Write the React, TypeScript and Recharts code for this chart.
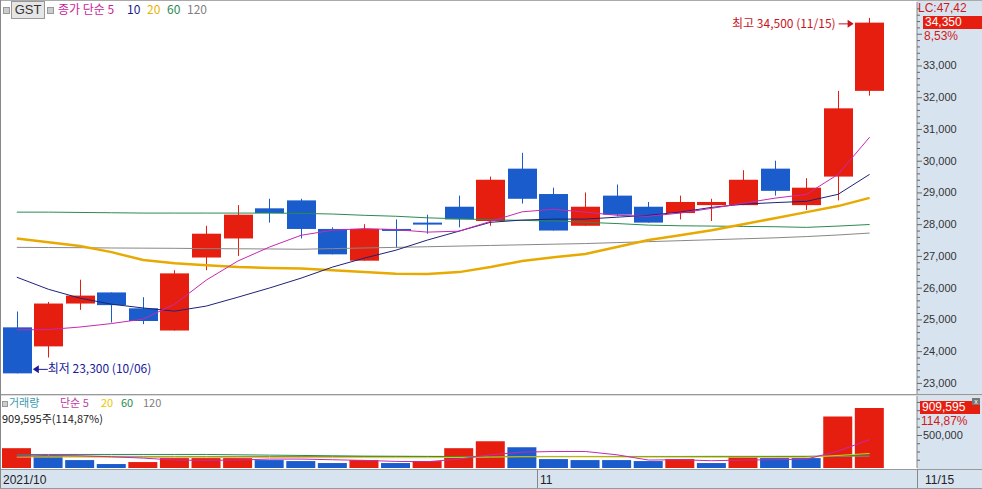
import React from "react";
import { ComposedChart, Bar, Line, XAxis, YAxis, Cell, ReferenceDot } from "recharts";

// daily candles, 2021/10/06 .. 2021/11/15
const dates = [
  "10/06", "10/07", "10/08", "10/12", "10/13", "10/14", "10/15", "10/18", "10/19", "10/20",
  "10/21", "10/22", "10/25", "10/26", "10/27", "10/28", "10/29", "11/01", "11/02", "11/03",
  "11/04", "11/05", "11/08", "11/09", "11/10", "11/11", "11/12", "11/15",
];
const opens = [
  24750, 24150, 25500, 25850, 25350, 24650, 26950, 27550, 28500, 28750,
  27850, 26850, 27850, 28050, 28550, 28100, 29750, 28950, 27950, 28900,
  28550, 28350, 28600, 28600, 29750, 28600, 29500, 32200,
];
const highs = [
  25250, 25550, 26250, 25850, 25700, 26550, 27950, 28600, 28800, 28800,
  27900, 28000, 28150, 28300, 28900, 29500, 30250, 29150, 29000, 29250,
  28700, 28900, 28800, 29700, 30000, 29450, 32200, 34500,
];
const lows = [
  23300, 23800, 25300, 24900, 24850, 24650, 26550, 27000, 28050, 27550,
  27050, 26850, 27250, 27700, 27900, 27950, 28650, 27800, 27950, 28250,
  28050, 28150, 28100, 28600, 28900, 28450, 28750, 32050,
];
const closes = [
  23300, 25500, 25750, 25450, 24950, 26450, 27700, 28300, 28350, 27850,
  27050, 27850, 27800, 28000, 28150, 29400, 28800, 27800, 28550, 28300,
  28050, 28700, 28700, 29400, 29050, 29150, 31650, 34350,
];
const ma5 = [
  24670, 24680, 24760, 24870, 25010, 25480, 26240, 26840, 27280, 27650,
  27810, 27860, 27830, 27750, 27780, 28090, 28390, 28470, 28380, 28280,
  28250, 28350, 28500, 28660, 28820, 28940, 29570, 30740,
];
const ma10 = [
  26330, 25950, 25670, 25480, 25360, 25260, 25420, 25700, 25990, 26300,
  26650, 26930, 27180, 27500, 27780, 28060, 28130, 28160, 28160, 28220,
  28280, 28380, 28530, 28630, 28680, 28720, 28940, 29570,
];
const ma20 = [
  27550, 27430, 27310, 27120, 26870, 26770, 26710, 26650, 26620, 26600,
  26550, 26490, 26440, 26430, 26490, 26650, 26840, 26960, 27060, 27280,
  27500, 27650, 27810, 28000, 28190, 28380, 28570, 28830,
];
const ma60 = [
  28380, 28380, 28370, 28360, 28350, 28350, 28350, 28350, 28350, 28340,
  28320, 28280, 28250, 28200, 28170, 28140, 28120, 28100, 28060, 28020,
  27970, 27950, 27940, 27930, 27920, 27900, 27940, 27990,
];
const ma120 = [
  27270, 27265, 27260, 27250, 27245, 27240, 27230, 27225, 27220, 27210,
  27230, 27250, 27270, 27290, 27310, 27330, 27350, 27370, 27390, 27420,
  27450, 27480, 27510, 27540, 27570, 27610, 27660, 27720,
];

const volumes = [
  300000, 180000, 120000, 60000, 90000, 150000, 150000, 150000, 120000, 105000,
  75000, 120000, 75000, 105000, 300000, 405000, 315000, 135000, 120000, 120000,
  105000, 135000, 75000, 165000, 150000, 150000, 780000, 909595,
];
const volRed = [
  true, false, false, false, true, true, true, true, false, false,
  false, true, false, true, true, true, false, false, false, false,
  false, true, false, true, false, false, true, true,
];
const volMa5 = [
  180000, 190000, 185000, 170000, 150000, 120000, 115000, 120000, 135000, 135000,
  125000, 115000, 100000, 95000, 135000, 200000, 240000, 250000, 250000, 200000,
  120000, 125000, 110000, 120000, 125000, 135000, 255000, 430000,
];
const volMa20 = [
  165000, 165000, 165000, 162000, 160000, 160000, 160000, 158000, 158000, 158000,
  157000, 157000, 156000, 156000, 160000, 165000, 170000, 170000, 170000, 168000,
  166000, 165000, 163000, 163000, 162000, 162000, 190000, 220000,
];
const volMa60 = [
  205000, 205000, 205000, 205000, 205000, 205000, 205000, 200000, 195000, 190000,
  185000, 180000, 178000, 176000, 175000, 175000, 175000, 175000, 175000, 175000,
  175000, 175000, 176000, 176000, 176000, 177000, 185000, 195000,
];
const volMa120 = [
  178000, 178000, 177000, 177000, 176000, 176000, 175000, 175000, 174000, 174000,
  173000, 173000, 172000, 172000, 172000, 173000, 173000, 173000, 173000, 173000,
  173000, 173000, 173000, 173000, 173000, 173000, 176000, 180000,
];

const priceTicks: number[] = [];
for (let v = 22800; v <= 34800; v += 200) priceTicks.push(v);
const volTicks = [125000, 250000, 375000, 500000, 625000, 750000, 875000, 1000000];

const RED = "#e61e10";
const BLUE = "#1a5ccc";
const AXIS_BG = "#d8e3f0";
const FONT = "'Liberation Sans', Arial, sans-serif";
const KFONT = "'Noto Sans CJK KR', 'Liberation Sans', sans-serif";

// one empty slot on the right, like the HTS chart
const rows = dates
  .map((d, i) => ({
    d,
    open: opens[i],
    high: highs[i],
    low: lows[i],
    close: closes[i],
    ma5: ma5[i],
    ma10: ma10[i],
    ma20: ma20[i],
    ma60: ma60[i],
    ma120: ma120[i],
    vol: volumes[i],
    volRed: volRed[i],
    vma5: volMa5[i],
    vma20: volMa20[i],
    vma60: volMa60[i],
    vma120: volMa120[i],
  }))
  .concat([{ d: "" } as any]);

const fmt = (v: number) => String(v).replace(/\B(?=(\d{3})+(?!\d))/g, ",");

const Candle = (props: any) => {
  const { x, y, width, height, payload } = props;
  if (payload == null || payload.open == null) return null;
  const { open, close, high, low } = payload;
  const top = Math.min(y, y + height);
  const h = Math.abs(height);
  const k = h / (high - low);
  const cx = Math.round(x + width / 2);
  const yO = top + (high - open) * k;
  const yC = top + (high - close) * k;
  const color = close >= open ? RED : BLUE;
  const bTop = Math.min(yO, yC);
  const bH = Math.max(Math.abs(yC - yO), 2);
  return (
    <g>
      <line x1={cx + 0.5} x2={cx + 0.5} y1={top} y2={top + h} stroke={color} strokeWidth={1} />
      <rect x={cx - 14} y={bTop} width={29} height={bH} fill={color} />
    </g>
  );
};

const PriceTick = (props: any) => {
  const { x, y, payload } = props;
  const v = payload.value;
  const major = v % 1000 === 0;
  return (
    <g>
      <line x1={x} x2={x + (major ? 5 : 3)} y1={y + 0.5} y2={y + 0.5} stroke="#666" />
      {major && v <= 33000 && (
        <text x={x + 6} y={y + 4} fontSize={11} fill="#333" fontFamily={FONT}>
          {fmt(v)}
        </text>
      )}
    </g>
  );
};

const VolTick = (props: any) => {
  const { x, y, payload } = props;
  const v = payload.value;
  const major = v === 500000;
  return (
    <g>
      <line x1={x} x2={x + (major ? 5 : 3)} y1={y + 0.5} y2={y + 0.5} stroke="#666" />
      {major && (
        <text x={x + 6} y={y + 4} fontSize={11} fill="#333" fontFamily={FONT}>
          {fmt(v)}
        </text>
      )}
    </g>
  );
};

const HighMark = (props: any) => {
  const { cx, cy } = props;
  return (
    <g>
      <text x={cx - 34} y={cy + 10} fontSize={12} fill="#c8141e" textAnchor="end" fontFamily={KFONT}>
        최고 34,500 (11/15)
      </text>
      <line x1={cx - 31} x2={cx - 17} y1={cy + 6} y2={cy + 6} stroke="#c8141e" />
      <path d={`M${cx - 16},${cy + 6} L${cx - 22},${cy + 2} L${cx - 22},${cy + 10} Z`} fill="#c8141e" />
    </g>
  );
};

const LowMark = (props: any) => {
  const { cx, cy } = props;
  return (
    <g>
      <path d={`M${cx + 16},${cy - 4} L${cx + 22},${cy - 8} L${cx + 22},${cy} Z`} fill="#1a1a9a" />
      <line x1={cx + 21} x2={cx + 31} y1={cy - 4} y2={cy - 4} stroke="#1a1a9a" />
      <text x={cx + 31} y={cy} fontSize={12} fill="#1a1a9a" fontFamily={KFONT}>
        최저 23,300 (10/06)
      </text>
    </g>
  );
};

const abs = (left: number, top: number, extra: React.CSSProperties = {}): React.CSSProperties => ({
  position: "absolute",
  left,
  top,
  whiteSpace: "nowrap",
  lineHeight: 1,
  ...extra,
});

export default function App() {
  return (
    <div style={{ position: "relative", width: 982, height: 489, background: "#fff", overflow: "hidden", fontFamily: KFONT }}>
      <style>{"body{margin:0}"}</style>

      {/* right axis background */}
      <div style={abs(917, 0, { width: 65, height: 489, background: AXIS_BG })} />

      {/* price panel */}
      <div style={abs(0, 0)}>
        <ComposedChart width={982} height={396} data={rows} margin={{ top: 2, right: 0, left: 1, bottom: 2 }}>
          <XAxis dataKey="d" hide />
          <YAxis
            orientation="right"
            width={65}
            type="number"
            domain={[22650, 35000]}
            allowDataOverflow
            ticks={priceTicks}
            interval={0}
            tick={<PriceTick />}
            tickSize={0}
            tickMargin={0}
            tickLine={false}
            axisLine={{ stroke: "#888" }}
          />
          <Line dataKey="ma120" stroke="#888888" strokeWidth={1} dot={false} isAnimationActive={false} />
          <Line dataKey="ma60" stroke="#2a8a50" strokeWidth={1} dot={false} isAnimationActive={false} />
          <Line dataKey="ma20" stroke="#e8aa00" strokeWidth={2.5} dot={false} isAnimationActive={false} />
          <Line dataKey="ma10" stroke="#1c2478" strokeWidth={1} dot={false} isAnimationActive={false} />
          <Line dataKey="ma5" stroke="#c828b0" strokeWidth={1} dot={false} isAnimationActive={false} />
          <Bar
            dataKey={(r: any) => (r.high == null ? null : [r.low, r.high])}
            barSize={29}
            shape={<Candle />}
            isAnimationActive={false}
          />
          <ReferenceDot x="11/15" y={34500} shape={<HighMark />} ifOverflow="visible" />
          <ReferenceDot x="10/06" y={23300} shape={<LowMark />} ifOverflow="visible" />
        </ComposedChart>
      </div>

      {/* price legend */}
      <div style={abs(3, 7, { width: 5, height: 5, border: "1px solid #999", background: "#ccc" })} />
      <div style={abs(11, 1, { width: 32, height: 16, border: "1px solid #999", background: "#e6e6e6", fontSize: 13, fontFamily: FONT, color: "#333", textAlign: "center", lineHeight: "16px" })}>GST</div>
      <div style={abs(47, 7, { width: 5, height: 5, border: "1px solid #999", background: "#ccc" })} />
      <div style={abs(58, 3, { fontSize: 12, color: "#c81e9a" })}>종가 단순 5</div>
      <div style={abs(127, 3, { fontSize: 12, color: "#1a1a8c" })}>10</div>
      <div style={abs(147, 3, { fontSize: 12, color: "#e8b400" })}>20</div>
      <div style={abs(167, 3, { fontSize: 12, color: "#2a8a50" })}>60</div>
      <div style={abs(187, 3, { fontSize: 12, color: "#808080" })}>120</div>

      {/* right top info */}
      <div style={abs(918, 2, { fontSize: 12, color: "#d01818", fontFamily: FONT })}>LC:47,42</div>
      <div style={abs(923, 16, { width: 57, height: 13, background: RED, color: "#fff", fontSize: 12, fontFamily: FONT, lineHeight: "13px", paddingLeft: 2 })}>34,350</div>
      <div style={abs(924, 30, { fontSize: 12, color: "#d01818", fontFamily: FONT })}>8,53%</div>

      {/* separator */}
      <div style={abs(0, 394, { width: 982, height: 1, background: "#999" })} />
      <div style={abs(0, 395, { width: 982, height: 1, background: "#ddd" })} />

      {/* volume panel */}
      <div style={abs(0, 396)}>
        <ComposedChart width={982} height={73} data={rows} margin={{ top: 0, right: 0, left: 1, bottom: 1 }}>
          <XAxis dataKey="d" hide />
          <YAxis
            orientation="right"
            width={65}
            type="number"
            domain={[0, 1090000]}
            allowDataOverflow
            ticks={volTicks}
            interval={0}
            tick={<VolTick />}
            tickSize={0}
            tickMargin={0}
            tickLine={false}
            axisLine={{ stroke: "#888" }}
          />
          <Bar dataKey="vol" barSize={29} isAnimationActive={false}>
            {rows.map((r: any, i) => (
              <Cell key={i} fill={r.volRed ? RED : BLUE} />
            ))}
          </Bar>
          <Line dataKey="vma120" stroke="#888888" strokeWidth={1} dot={false} isAnimationActive={false} />
          <Line dataKey="vma60" stroke="#2a8a50" strokeWidth={1} dot={false} isAnimationActive={false} />
          <Line dataKey="vma20" stroke="#e8c800" strokeWidth={1} dot={false} isAnimationActive={false} />
          <Line dataKey="vma5" stroke="#c828b0" strokeWidth={1} dot={false} isAnimationActive={false} />
        </ComposedChart>
      </div>

      {/* volume legend */}
      <div style={abs(2, 401, { width: 4, height: 4, border: "1px solid #999", background: "#ccc" })} />
      <div style={abs(9, 397, { fontSize: 11, color: "#3a9ab0" })}>거래량</div>
      <div style={abs(60, 397, { fontSize: 11, color: "#c040a0" })}>단순 5</div>
      <div style={abs(101, 397, { fontSize: 11, color: "#e8c800" })}>20</div>
      <div style={abs(121, 397, { fontSize: 11, color: "#2a8a50" })}>60</div>
      <div style={abs(143, 397, { fontSize: 11, color: "#808080" })}>120</div>
      <div style={abs(2, 413, { fontSize: 11, color: "#222" })}>909,595주(114,87%)</div>

      <div style={abs(920, 401, { width: 58, height: 13, background: RED, color: "#fff", fontSize: 12, fontFamily: FONT, lineHeight: "13px", paddingLeft: 2 })}>909,595</div>
      <div style={abs(972, 398, { width: 8, height: 7, background: "#777", color: "#fff", fontSize: 7, lineHeight: "7px", textAlign: "center", fontFamily: FONT })}>x</div>
      <div style={abs(921, 415, { fontSize: 12, color: "#d01818", fontFamily: FONT })}>114,87%</div>

      {/* date strip */}
      <div style={abs(0, 469, { width: 982, height: 20, background: AXIS_BG, borderTop: "1px solid #999" })} />
      <div style={abs(537, 469, { width: 1, height: 20, background: "#888" })} />
      <div style={abs(917, 469, { width: 1, height: 20, background: "#888" })} />
      <div style={abs(3, 474, { fontSize: 12, color: "#222", fontFamily: FONT })}>2021/10</div>
      <div style={abs(540, 474, { fontSize: 12, color: "#222", fontFamily: FONT })}>11</div>
      <div style={abs(925, 474, { fontSize: 12, color: "#222", fontFamily: FONT })}>11/15</div>

      {/* frame */}
      <div style={abs(0, 0, { width: 982, height: 1, background: "#aaa" })} />
      <div style={abs(0, 0, { width: 1, height: 489, background: "#888" })} />
      <div style={abs(0, 488, { width: 982, height: 1, background: "#999" })} />
    </div>
  );
}
